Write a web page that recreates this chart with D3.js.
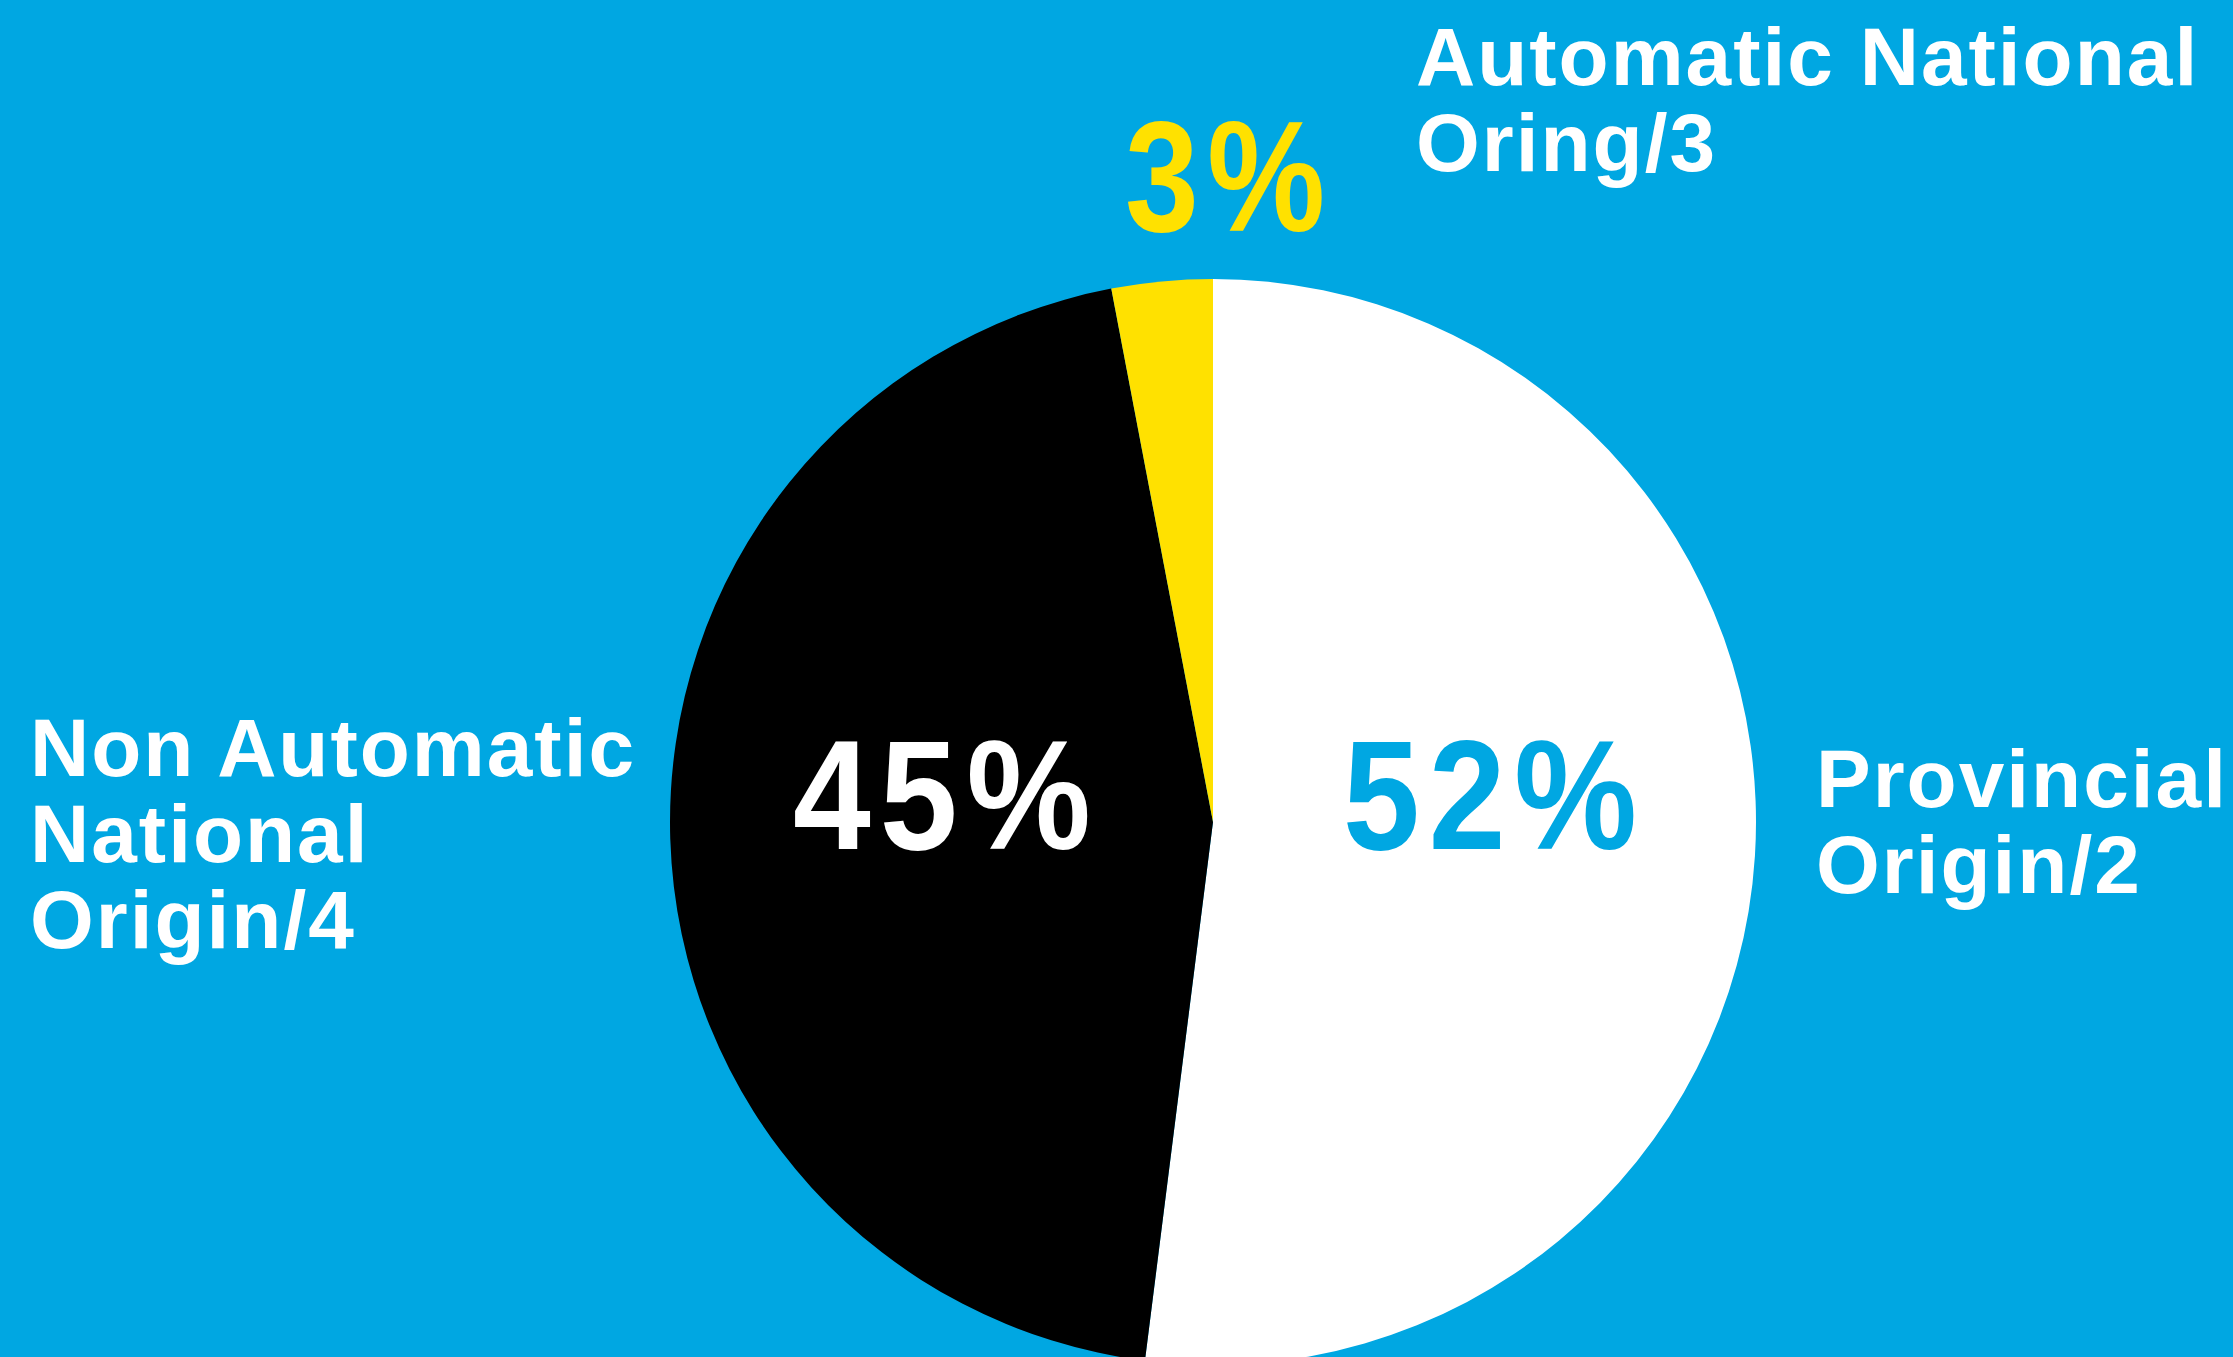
<!DOCTYPE html>
<html>
<head>
<meta charset="utf-8">
<script src="https://cdn.jsdelivr.net/npm/d3@7"></script>
<style>
  html, body { margin: 0; padding: 0; background: #00a7e2; overflow: hidden; }
  text { font-family: "Liberation Sans", Arial, sans-serif; font-weight: bold; }
</style>
</head>
<body>
<div id="chart"></div>
<script>
const categories = ["Provincial Origin/2", "Non Automatic National Origin/4", "Automatic National Oring/3"];
const values = [52, 45, 3];
const labelLines = [["Provincial", "Origin/2"], ["Non Automatic", "National", "Origin/4"], ["Automatic National", "Oring/3"]];
const pctLabels = ["52%", "45%", "3%"];

const width = 2233, height = 1357;
const cx = 1213, cy = 822, radius = 543;
const sliceColors = ["#ffffff", "#000000", "#ffe100"];
const pctColors = ["#00a7e2", "#ffffff", "#ffe100"];

const svg = d3.select("#chart").append("svg")
    .attr("width", width).attr("height", height);

svg.append("rect").attr("width", width).attr("height", height).attr("fill", "#00a7e2");

const pie = d3.pie().sort(null).value(d => d);
const arcs = pie(values);
const arc = d3.arc().innerRadius(0).outerRadius(radius);

const g = svg.append("g").attr("transform", `translate(${cx},${cy})`);
g.selectAll("path")
  .data(arcs)
  .enter()
  .append("path")
  .attr("d", arc)
  .attr("fill", (d, i) => sliceColors[i]);

// posiciones de las etiquetas (a mano, como en el original): x, y, tamaño, ancho
const pctPos = [[1343, 849, 155, 294], [793, 849, 155, 298], [1125, 231, 157, 200]];
pctLabels.forEach((lbl, i) => {
  const p = pctPos[i];
  const gg = svg.append("g");
  const t = gg.append("text")
    .attr("font-size", p[2])
    .attr("letter-spacing", 10)
    .attr("fill", pctColors[i])
    .text(lbl);
  // sin el espacio final
  const w = t.node().getComputedTextLength() - 10;
  gg.attr("transform", `translate(${p[0]},${p[1]}) scale(${p[3] / w},1)`);
});

const namePos = [[1816, 807], [30, 776], [1416, 85]];
const lineH = 86;
labelLines.forEach((lines, i) => {
  const t = svg.append("text")
    .attr("x", namePos[i][0])
    .attr("y", namePos[i][1])
    .attr("font-size", 82)
    .attr("letter-spacing", 2)
    .attr("fill", "#ffffff");
  lines.forEach((l, j) => {
    t.append("tspan")
      .attr("x", namePos[i][0])
      .attr("y", namePos[i][1] + j * lineH)
      .text(l);
  });
});
</script>
</body>
</html>
